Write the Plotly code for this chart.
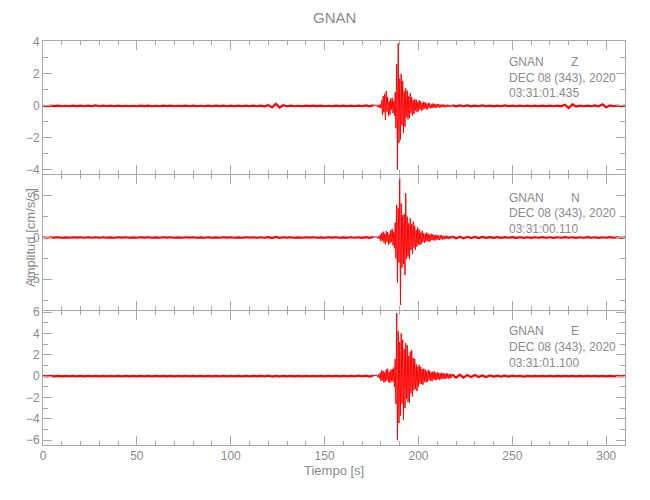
import plotly.graph_objects as go

# ---- sampling of the stored traces (seconds) ----
DT_BG = 2.0        # background samples before / after the event
DT_EV = 0.4        # event window samples
T_EV0 = 178.0      # start of event window
T_POST0 = 218.0    # start of post-event background

# ---- Z component (cm/s/s) ----
z_pre = [0.01,-0.02,0.02,-0.01,0.02,-0.02,0.01,-0.02,0.02,-0.01,
         0.02,-0.02,0.02,-0.02,0.03,-0.02,0.02,-0.02,0.02,-0.02,
         0.02,-0.02,0.01,-0.02,0.01,-0.02,0.02,-0.01,0.02,-0.02,
         0.01,-0.02,0.02,-0.01,0.02,-0.02,0.01,-0.01,0.02,-0.02,
         0.02,-0.02,0.01,-0.02,0.02,-0.02,0.02,-0.01,0.02,-0.02,
         0.02,-0.02,0.02,-0.02,0.02,-0.02,0.02,-0.02,0.02,-0.03,
         0.05,-0.09,0.13,-0.10,0.04,-0.02,0.02,-0.02,0.01,-0.02,
         0.02,-0.01,0.02,-0.01,0.02,-0.02,0.01,-0.02,0.02,-0.01,
         0.02,-0.02,0.02,-0.02,0.02,-0.02,0.03,-0.03,0.04]
z_ev = [0.05,-0.08,0.06,-0.12,0.10,-0.15,0.35,-0.55,0.62,-0.40,
        0.75,-0.88,0.92,-0.35,0.55,-0.62,0.30,-0.55,0.45,-0.25,
        0.50,-0.45,0.30,-0.60,0.85,-1.40,2.60,-4.00,3.90,-2.30,
        1.70,-2.10,2.00,-1.20,1.55,-1.70,0.90,-1.30,1.10,-0.70,
        0.95,-0.85,0.60,-0.75,0.80,-0.45,0.55,-0.60,0.35,-0.50,
        0.42,-0.30,0.38,-0.40,0.25,-0.33,0.35,-0.22,0.28,-0.30,
        0.18,-0.24,0.26,-0.15,0.22,-0.20,0.14,-0.22,0.18,-0.12,
        0.16,-0.15,0.10,-0.14,0.15,-0.10,0.13,-0.12,0.09,-0.12,
        0.11,-0.08,0.12,-0.10,0.07,-0.10,0.09,-0.07,0.08,-0.09,
        0.07,-0.08,0.06,-0.07,0.08,-0.05,0.06,-0.06,0.05,-0.05]
z_post = [0.04,-0.03,0.03,-0.02,0.03,-0.03,0.02,-0.02,0.03,-0.02,
          0.02,-0.03,0.02,-0.02,0.03,-0.02,0.02,-0.02,0.02,-0.02,
          0.02,-0.02,0.02,-0.02,0.02,-0.02,0.02,-0.02,0.02,-0.03,
          0.07,-0.13,0.10,-0.04,0.02,-0.02,0.02,-0.02,0.03,-0.03,
          0.10,-0.08,0.03,-0.02,0.02,-0.02,0.02]

# ---- N component ----
n_pre = [0.03,-0.03,0.03,-0.02,0.03,-0.03,0.02,-0.03,0.03,-0.02,
         0.03,-0.03,0.03,-0.03,0.03,-0.03,0.03,-0.03,0.02,-0.03,
         0.03,-0.02,0.03,-0.03,0.02,-0.03,0.03,-0.02,0.03,-0.03,
         0.02,-0.03,0.03,-0.02,0.03,-0.03,0.02,-0.03,0.03,-0.02,
         0.03,-0.03,0.02,-0.03,0.03,-0.03,0.02,-0.03,0.03,-0.02,
         0.03,-0.03,0.02,-0.03,0.03,-0.02,0.03,-0.03,0.03,-0.03,
         0.05,-0.07,0.06,-0.04,0.03,-0.02,0.03,-0.03,0.02,-0.03,
         0.03,-0.02,0.03,-0.03,0.02,-0.03,0.03,-0.02,0.03,-0.03,
         0.02,-0.03,0.03,-0.03,0.03,-0.04,0.04,-0.04,0.06]
n_ev = [0.08,-0.10,0.12,-0.18,0.30,-0.45,0.55,-0.35,0.70,-0.60,
        0.45,-0.80,0.75,-0.50,0.65,-0.85,0.40,-0.70,0.90,-0.55,
        1.00,-0.95,0.70,-1.30,1.80,-2.50,3.90,-5.40,3.50,-3.00,
        7.10,-8.10,4.10,-3.60,2.70,-3.20,2.80,-4.50,5.30,-2.60,
        2.50,-2.30,1.70,-2.60,2.30,-1.50,1.60,-2.00,1.90,-1.20,
        1.40,-1.50,0.90,-1.10,1.20,-0.80,0.95,-0.90,0.60,-0.75,
        0.80,-0.55,0.50,-0.65,0.45,-0.50,0.60,-0.40,0.45,-0.55,
        0.35,-0.42,0.45,-0.30,0.38,-0.35,0.28,-0.36,0.32,-0.25,
        0.30,-0.28,0.22,-0.30,0.25,-0.20,0.28,-0.24,0.18,-0.22,
        0.20,-0.18,0.22,-0.15,0.18,-0.20,0.15,-0.16,0.18,-0.12]
n_post = [0.12,-0.10,0.08,-0.10,0.08,-0.07,0.07,-0.06,0.06,-0.05,
          0.05,-0.05,0.04,-0.05,0.04,-0.03,0.04,-0.04,0.03,-0.04,
          0.03,-0.04,0.03,-0.03,0.04,-0.03,0.03,-0.04,0.03,-0.03,
          0.04,-0.03,0.03,-0.04,0.03,-0.03,0.04,-0.03,0.03,-0.04,
          0.03,-0.03,0.04,-0.03,0.03,-0.04,0.03]

# ---- E component ----
e_pre = [0.02,-0.03,0.02,-0.02,0.03,-0.02,0.02,-0.03,0.02,-0.02,
         0.03,-0.02,0.02,-0.03,0.02,-0.02,0.03,-0.02,0.02,-0.03,
         0.02,-0.02,0.03,-0.02,0.02,-0.03,0.02,-0.02,0.03,-0.02,
         0.02,-0.02,0.03,-0.02,0.02,-0.03,0.02,-0.02,0.03,-0.02,
         0.02,-0.03,0.02,-0.02,0.03,-0.02,0.02,-0.03,0.02,-0.02,
         0.03,-0.02,0.02,-0.03,0.02,-0.02,0.03,-0.02,0.02,-0.03,
         0.04,-0.05,0.03,-0.02,0.02,-0.03,0.02,-0.02,0.03,-0.02,
         0.02,-0.02,0.03,-0.02,0.02,-0.03,0.02,-0.02,0.03,-0.02,
         0.02,-0.03,0.03,-0.02,0.04,-0.03,0.04,-0.04,0.06]
e_ev = [0.08,-0.10,0.14,-0.20,0.32,-0.45,0.55,-0.40,0.48,-0.60,
        0.35,-0.50,0.62,-0.42,0.70,-0.55,0.40,-0.65,0.58,-0.48,
        0.66,-0.52,0.80,-1.00,1.60,-2.60,5.90,-6.00,4.20,-4.40,
        3.20,-3.70,4.00,-2.60,3.40,-4.10,2.50,-3.00,3.10,-2.10,
        2.90,-2.40,1.90,-2.50,2.30,-1.60,2.40,-1.90,1.70,-1.30,
        1.60,-1.20,1.10,-1.40,0.90,-1.00,1.05,-0.70,0.85,-0.75,
        0.65,-0.80,0.70,-0.50,0.62,-0.58,0.45,-0.55,0.60,-0.40,
        0.48,-0.42,0.35,-0.48,0.42,-0.30,0.45,-0.38,0.30,-0.36,
        0.38,-0.28,0.30,-0.34,0.25,-0.30,0.32,-0.22,0.28,-0.26,
        0.22,-0.26,0.28,-0.20,0.24,-0.22,0.18,-0.22,0.20,-0.16]
e_post = [0.15,-0.13,0.12,-0.14,0.11,-0.09,0.10,-0.09,0.07,-0.08,
          0.06,-0.05,0.05,-0.05,0.04,-0.04,0.04,-0.03,0.03,-0.04,
          0.03,-0.03,0.03,-0.02,0.03,-0.03,0.02,-0.03,0.03,-0.02,
          0.03,-0.02,0.03,-0.03,0.02,-0.03,0.03,-0.02,0.03,-0.02,
          0.03,-0.03,0.02,-0.03,0.02,-0.03,0.02]

components = ["Z", "N", "E"]
start_times = ["03:31:01.435", "03:31:00.110", "03:31:01.100"]
station = "GNAN"
date_label = "DEC 08 (343), 2020"
x_range = [0, 310]
y_ranges = [[-4.25, 4.05], [-8.7, 7.5], [-6.45, 6.1]]
y_dticks = [2, 5, 2]
y_minor = [1, 2.5, 1]

traces = [(z_pre, z_ev, z_post), (n_pre, n_ev, n_post), (e_pre, e_ev, e_post)]

FONT = "Liberation Sans, Arial, sans-serif"
GREY = "#8a8a8a"
AX = "#a8a8a8"
RED = "#ff0000"

# The page body adds an 8px offset; positions below are page pixels
OFF = 8
TOP, BOT, LEFT, RIGHT = 41 - OFF, 445 - OFF, 43 - OFF, 625 - OFF
H = BOT - TOP
W = RIGHT - LEFT


def py(p):
    """page pixel row -> paper fraction"""
    return (BOT - (p - OFF)) / H


def px(p):
    return ((p - OFF) - LEFT) / W


domains = [[py(174), 1.0], [py(310), py(175)], [0.0, py(311)]]

fig = go.Figure()
for k, (pre, ev, post) in enumerate(traces):
    t_pre = [i * DT_BG for i in range(len(pre))]
    t_ev = [T_EV0 + i * DT_EV for i in range(len(ev))]
    t_post = [T_POST0 + i * DT_BG for i in range(len(post))]
    sfx = "" if k == 0 else str(k + 1)
    fig.add_trace(go.Scatter(x=t_pre + t_ev + t_post, y=pre + ev + post, mode="lines",
                             line=dict(color=RED, width=1),
                             xaxis="x" + sfx, yaxis="y" + sfx,
                             showlegend=False, hoverinfo="skip"))
    for tt, aa in [(t_pre, pre), (t_post, post)]:
        fig.add_trace(go.Scatter(x=tt, y=aa, mode="lines",
                                 line=dict(color=RED, width=2.2),
                                 xaxis="x" + sfx, yaxis="y" + sfx,
                                 showlegend=False, hoverinfo="skip"))

layout = dict(
    width=650, height=500,
    margin=dict(l=LEFT, r=650 - RIGHT, t=TOP, b=500 - BOT, autoexpand=False),
    paper_bgcolor="white", plot_bgcolor="white",
    font=dict(family=FONT, size=12, color=GREY),
    showlegend=False,
)

for k in range(3):
    sfx = "" if k == 0 else str(k + 1)
    layout["xaxis" + sfx] = dict(
        domain=[0, 1], anchor="y" + sfx, range=x_range, automargin=False,
        dtick=50, tick0=0, ticks="inside", ticklen=9, tickcolor=AX,
        minor=dict(dtick=10, ticklen=4, tickcolor=AX, ticks="inside", showgrid=False),
        showline=True, linecolor=AX, linewidth=1, mirror="ticks",
        showgrid=False, zeroline=False,
        showticklabels=(k == 2),
        tickfont=dict(family=FONT, size=12, color=GREY),
        matches=None if k == 0 else "x",
    )
    layout["yaxis" + sfx] = dict(
        domain=domains[k], anchor="x" + sfx, range=y_ranges[k], automargin=False,
        dtick=y_dticks[k], tick0=0, ticks="inside", ticklen=9, tickcolor=AX,
        minor=dict(dtick=y_minor[k], ticklen=5, tickcolor=AX, ticks="inside", showgrid=False),
        showline=True, linecolor=AX, linewidth=1, mirror="ticks",
        showgrid=False, zeroline=False,
        tickfont=dict(family=FONT, size=12, color=GREY),
    )

fig.update_layout(**layout)

ann = []
ann.append(dict(text=station, x=px(334), y=py(18), xref="paper", yref="paper",
                xanchor="center", yanchor="middle", showarrow=False,
                font=dict(family=FONT, size=15, color=GREY)))
label_rows = [(62, 78, 93), (198, 213, 229), (331, 347, 363)]
x_text = px(507)
x_comp = px(569)
for k in range(3):
    r1, r2, r3 = label_rows[k]
    for txt, xx, yy in [(station, x_text, r1), (components[k], x_comp, r1),
                        (date_label, x_text, r2), (start_times[k], x_text, r3)]:
        ann.append(dict(text=txt, x=xx, y=py(yy), xref="paper", yref="paper",
                        xanchor="left", yanchor="middle", showarrow=False,
                        font=dict(family=FONT, size=12, color=GREY)))
ann.append(dict(text="Amplitud [cm/s/s]", x=px(30), y=py(238),
                xref="paper", yref="paper", xanchor="center", yanchor="middle",
                textangle=-90, showarrow=False,
                font=dict(family=FONT, size=13, color=GREY)))
ann.append(dict(text="Tiempo [s]", x=px(334), y=py(470), xref="paper", yref="paper",
                xanchor="center", yanchor="middle", showarrow=False,
                font=dict(family=FONT, size=13, color=GREY)))
fig.update_layout(annotations=ann)

fig.write_html("out.html")
